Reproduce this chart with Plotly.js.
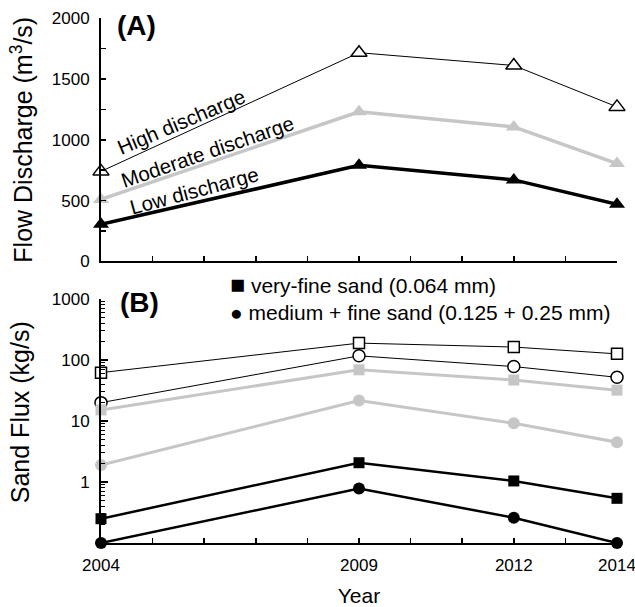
<!DOCTYPE html>
<html>
<head>
<meta charset="utf-8">
<script src="https://cdn.plot.ly/plotly-3.0.1.min.js"></script>
<style>html,body{margin:0;padding:0;background:#fff;}#chart{width:635px;height:607px;}</style>
</head>
<body>
<div id="chart"></div>
<script>
// ---- data ----
const years = [2004, 2009, 2012, 2014];
const xTickText = ['2004', '2009', '2012', '2014'];

// Panel A: flow discharge (m3/s)
const highQ = [740, 1715, 1610, 1270];
const moderateQ = [510, 1230, 1105, 805];
const lowQ = [305, 790, 670, 470];

// Panel B: sand flux (kg/s)
const highVeryFine = [62, 189, 163, 126];
const highMedFine = [20, 117, 78, 52];
const modVeryFine = [15.2, 69, 47, 32];
const modMedFine = [1.9, 21.6, 9.2, 4.5];
const lowVeryFine = [0.25, 2.07, 1.04, 0.54];
const lowMedFine = [0.1, 0.78, 0.26, 0.1];

const fluxTickVals = [1, 10, 100, 1000];
const fluxTickText = ['1', '10', '100', '1000'];

const legendLines = ['very-fine sand (0.064 mm)', 'medium + fine sand (0.125 + 0.25 mm)'];

const FONT = 'Liberation Sans, Arial, Helvetica, sans-serif';
const GRAY = '#c6c6c6';

function tr(y, xa, ya, lineW, lineC, sym, size, fill, outline, outW) {
  return {
    x: years, y: y, xaxis: xa, yaxis: ya, type: 'scatter', mode: 'lines+markers',
    cliponaxis: false,
    line: {color: lineC, width: lineW},
    marker: {symbol: sym, size: size, color: fill, line: {color: outline, width: outW}},
    hoverinfo: 'x+y'
  };
}

const data = [
  tr(highQ, 'x', 'y', 1, '#000', 'triangle-up', 14, '#fff', '#000', 1.5),
  tr(moderateQ, 'x', 'y', 3.5, GRAY, 'triangle-up', 14, GRAY, GRAY, 0),
  tr(lowQ, 'x', 'y', 3.5, '#000', 'triangle-up', 14, '#000', '#000', 0),

  tr(highVeryFine, 'x2', 'y2', 1, '#000', 'square', 11, '#fff', '#000', 1.5),
  tr(highMedFine, 'x2', 'y2', 1, '#000', 'circle', 12, '#fff', '#000', 1.5),
  tr(modVeryFine, 'x2', 'y2', 3, GRAY, 'square', 11, GRAY, GRAY, 0),
  tr(modMedFine, 'x2', 'y2', 3, GRAY, 'circle', 12, GRAY, GRAY, 0),
  tr(lowVeryFine, 'x2', 'y2', 2.5, '#000', 'square', 11, '#000', '#000', 0),
  tr(lowMedFine, 'x2', 'y2', 2.5, '#000', 'circle', 12, '#000', '#000', 0)
];

const axisCommon = {
  showline: true, linecolor: '#000', linewidth: 2,
  showgrid: false, zeroline: false,
  ticks: 'inside', tickcolor: '#000', tickwidth: 1.5,
  tickfont: {family: FONT, size: 17, color: '#000'},
  ticklabelstandoff: 6,
  ticklabeloverflow: 'allow'
};

const layout = {
  width: 635, height: 607,
  margin: {l: 101, r: 18, t: 18, b: 64},
  paper_bgcolor: '#fff', plot_bgcolor: '#fff',
  showlegend: false,
  font: {family: FONT, color: '#000'},
  xaxis: Object.assign({}, axisCommon, {
    domain: [0, 1], anchor: 'y', range: [2004, 2014],
    tickmode: 'linear', tick0: 2004, dtick: 1, ticklen: 5,
    showticklabels: false
  }),
  yaxis: Object.assign({}, axisCommon, {
    domain: [0.5362, 1], anchor: 'x', range: [0, 2000],
    tickmode: 'linear', tick0: 0, dtick: 500, ticklen: 5,
    minor: {dtick: 250, ticks: 'inside', ticklen: 5, tickwidth: 1.5, tickcolor: '#000'},
    title: {text: 'Flow Discharge (m<sup>3</sup>/s)', font: {family: FONT, size: 25, color: '#000'}, standoff: 12}
  }),
  xaxis2: Object.assign({}, axisCommon, {
    domain: [0, 1], anchor: 'y2', range: [2004, 2014],
    tickmode: 'array', tickvals: years, ticktext: xTickText, ticklen: 5,
    minor: {tick0: 2004, dtick: 1, ticks: 'inside', ticklen: 5, tickwidth: 1.5, tickcolor: '#000'},
    title: {text: 'Year', font: {family: FONT, size: 21, color: '#000'}, standoff: 18}
  }),
  yaxis2: Object.assign({}, axisCommon, {
    domain: [0, 0.4648], anchor: 'x2', type: 'log', range: [-1, 3],
    tickmode: 'array', tickvals: fluxTickVals, ticktext: fluxTickText, ticklen: 7,
    minor: {dtick: 'D1', ticks: 'inside', ticklen: 3.5, tickwidth: 1, tickcolor: '#000'}
  }),
  annotations: [
    {text: 'Sand Flux (kg/s)', xref: 'paper', yref: 'paper', x: -0.158, y: 0.25, textangle: -90,
     xanchor: 'center', yanchor: 'middle', showarrow: false, font: {family: FONT, size: 25, color: '#000'}},
    {text: '<b>(A)</b>', xref: 'x', yref: 'y', x: 2004.28, y: 1935, xanchor: 'left', yanchor: 'middle',
     showarrow: false, font: {family: FONT, size: 28, color: '#000'}},
    {text: '<b>(B)</b>', xref: 'paper', yref: 'paper', x: 0.032, y: 0.459, xanchor: 'left', yanchor: 'middle',
     showarrow: false, font: {family: FONT, size: 28, color: '#000'}},
    {text: 'High discharge', xref: 'x', yref: 'y', x: 2005.565, y: 1146, textangle: -23,
     showarrow: false, font: {family: FONT, size: 20.5, color: '#000'}},
    {text: 'Moderate discharge', xref: 'x', yref: 'y', x: 2006.064, y: 900, textangle: -19,
     showarrow: false, font: {family: FONT, size: 20.5, color: '#000'}},
    {text: 'Low discharge', xref: 'x', yref: 'y', x: 2005.80, y: 586, textangle: -15,
     showarrow: false, font: {family: FONT, size: 20.5, color: '#000'}},
    {text: '<span style="font-size:25px">■</span> ' + legendLines[0] + '<br>● ' + legendLines[1],
     xref: 'paper', yref: 'paper', x: 0.246, y: 0.469, align: 'left',
     xanchor: 'left', yanchor: 'middle', showarrow: false, font: {family: FONT, size: 21, color: '#000'}}
  ]
};

Plotly.newPlot('chart', data, layout, {displayModeBar: false, staticPlot: true});
</script>
</body>
</html>
